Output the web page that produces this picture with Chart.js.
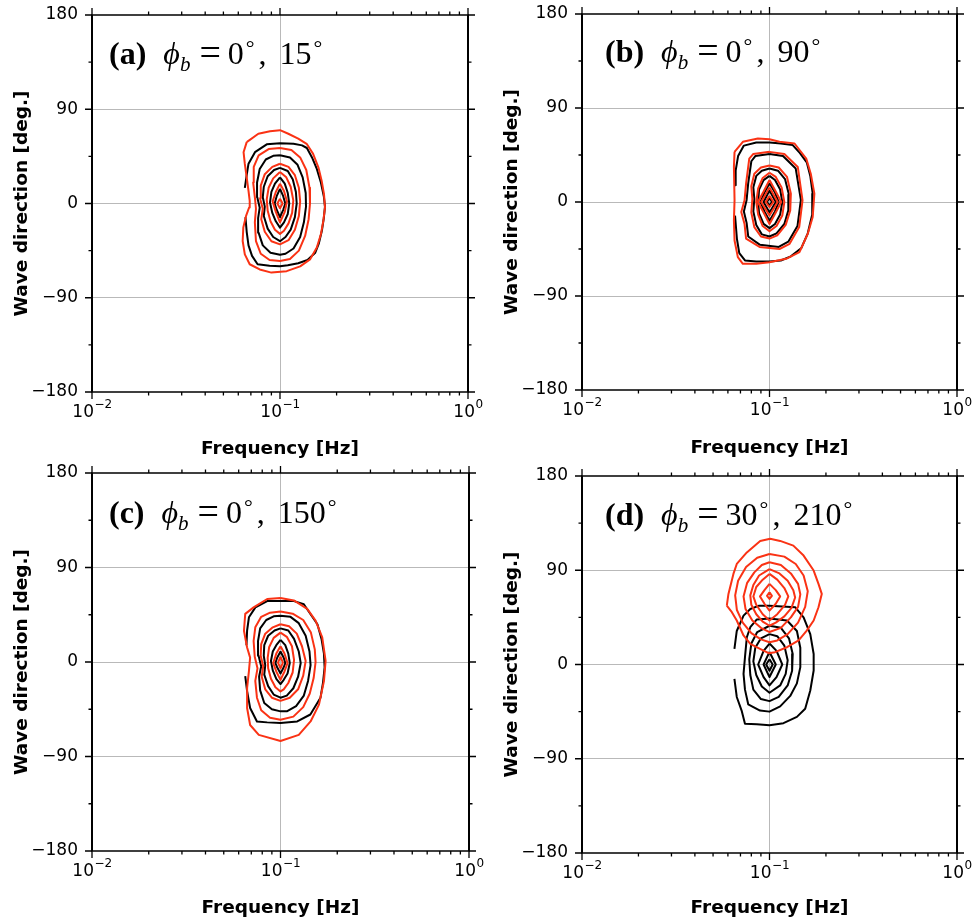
<!DOCTYPE html>
<html>
<head>
<meta charset="utf-8">
<title>Directional wave spectra</title>
<script src="https://cdn.jsdelivr.net/npm/chart.js@4.4.1/dist/chart.umd.min.js"></script>
<style>
  html, body { margin: 0; padding: 0; background: #fff; }
  #figure { position: relative; width: 975px; height: 924px; overflow: hidden; }
  #figure canvas { position: absolute; }
</style>
</head>
<body>
<div id="figure">
  <canvas id="panel-a" width="490" height="462" style="left:0;top:0"></canvas>
  <canvas id="panel-b" width="485" height="462" style="left:490px;top:0"></canvas>
  <canvas id="panel-c" width="490" height="462" style="left:0;top:462px"></canvas>
  <canvas id="panel-d" width="485" height="462" style="left:490px;top:462px"></canvas>
</div>
<script>
// Axis ticks
const freqTicks = [0.01, 0.1, 1];
const freqExponents = ['−2', '−1', '0'];
const freqMinor = [0.01, 0.02, 0.03, 0.04, 0.05, 0.06, 0.07, 0.08, 0.09, 0.1, 0.2, 0.3, 0.4, 0.5, 0.6, 0.7, 0.8, 0.9, 1];
const dirTicks = [-180, -90, 0, 90, 180];
const dirLabels = ['−180', '−90', '0', '90', '180'];
const dirMinor = [-180, -135, -90, -45, 0, 45, 90, 135, 180];

// Panel captions
const panelTags = ['(a)', '(b)', '(c)', '(d)'];
const phiFirst = ['0', '0', '0', '30'];
const phiSecond = ['15', '90', '150', '210'];

// Contour rings, each point is [frequency Hz, direction deg], outer ring first.
// Closed rings repeat their first point; the outer black ring stops at the lowest bin.
const aBlack = [
  [[0.065,15],[0.0665,27],[0.068,38],[0.0736,49],[0.085,56.5],[0.1,57.5],[0.118,57],[0.131,55.5],[0.139,53],[0.148,44],[0.157,33],[0.165,20],[0.171,7],[0.1735,-3],[0.171,-14],[0.167,-26],[0.161,-38],[0.154,-47],[0.14,-54],[0.125,-57],[0.11,-59],[0.1,-60],[0.088,-59.5],[0.076,-58],[0.071,-50],[0.068,-40],[0.0665,-27],[0.0655,-13]],
  [[0.1,46],[0.113,44],[0.124,37],[0.132,25],[0.137,10],[0.1375,-3],[0.134,-18],[0.128,-32],[0.118,-43],[0.107,-48],[0.1,-49],[0.089,-47],[0.081,-40],[0.077,-28],[0.0765,-14],[0.078,-4],[0.0757,6],[0.0755,20],[0.078,33],[0.084,42],[0.092,45.5],[0.1,46]],
  [[0.1,34],[0.11,31],[0.117,23],[0.1215,11],[0.1227,0],[0.12,-13],[0.114,-25],[0.107,-32],[0.1,-36],[0.092,-32],[0.086,-24],[0.082,-12],[0.083,-3],[0.081,6],[0.082,16],[0.086,26],[0.093,32],[0.1,34]],
  [[0.1,25],[0.106,19],[0.11,10],[0.112,0],[0.11,-10],[0.105,-18],[0.1,-23],[0.095,-17],[0.091,-9],[0.0885,1],[0.09,11],[0.094,19],[0.1,25]],
  [[0.1,14],[0.104,7],[0.1067,0],[0.104,-6],[0.1,-13],[0.096,-6],[0.0937,0],[0.096,7],[0.1,14]]
];
const aRed = [
  [[0.0665,58.6],[0.0767,66.6],[0.0885,69],[0.1,70],[0.1107,66.6],[0.125,62],[0.1386,57],[0.15,47.4],[0.16,34.6],[0.1665,21.8],[0.1714,9],[0.1735,-3.8],[0.17,-16.6],[0.165,-29.4],[0.157,-42],[0.1444,-53.4],[0.128,-60],[0.1085,-64.6],[0.09,-66],[0.078,-63],[0.069,-58],[0.065,-48.6],[0.0633,-35.8],[0.0638,-23],[0.066,-11.8],[0.0685,-3.8],[0.069,2.6],[0.068,12],[0.0665,25],[0.065,37.8],[0.064,49],[0.0665,58.6]],
  [[0.1,53],[0.115,51],[0.128,44],[0.138,32],[0.1435,15],[0.1444,0],[0.142,-15],[0.136,-31],[0.126,-45],[0.113,-53],[0.1,-55],[0.088,-54],[0.079,-48],[0.0745,-36],[0.0735,-18],[0.0745,-5],[0.0736,5],[0.072,20],[0.0725,35],[0.077,46],[0.087,52],[0.1,53]],
  [[0.1,38],[0.111,35],[0.12,27],[0.126,15],[0.128,2],[0.126,-12],[0.12,-25],[0.111,-35],[0.1,-39],[0.09,-36],[0.083,-27],[0.0795,-15],[0.081,-5],[0.0783,5],[0.079,17],[0.083,28],[0.091,35],[0.1,38]],
  [[0.1,30],[0.108,25],[0.114,16],[0.1177,3],[0.116,-9],[0.111,-19],[0.105,-26],[0.1,-29],[0.094,-25],[0.089,-17],[0.086,-7],[0.085,4],[0.087,15],[0.092,24],[0.1,30]],
  [[0.1,19],[0.105,12],[0.109,2],[0.106,-8],[0.1,-18],[0.095,-8],[0.0914,2],[0.095,11],[0.1,19]],
  [[0.1,4.5],[0.1033,0],[0.1,-4.5],[0.0968,0],[0.1,4.5]]
];

const bBlack = [
  [[0.0655,16],[0.066,30],[0.068,44],[0.073,54],[0.085,57],[0.1,57],[0.115,56],[0.133,54.5],[0.145,47],[0.158,38],[0.165,25],[0.17,8],[0.169,-12],[0.16,-30],[0.148,-44],[0.13,-52],[0.115,-56],[0.1,-57],[0.085,-57],[0.074,-56],[0.069,-49],[0.067,-35],[0.0655,-13]],
  [[0.1,46],[0.118,44],[0.138,32],[0.147,2],[0.141,-23],[0.126,-38],[0.112,-43],[0.089,-41],[0.077,-33],[0.0755,-20],[0.073,-9],[0.0755,2],[0.077,18],[0.08,39],[0.084,44],[0.1,46]],
  [[0.1,32],[0.111,30],[0.121,22],[0.127,7],[0.126,-8],[0.12,-21],[0.109,-30],[0.1,-33],[0.091,-31],[0.085,-22],[0.082,-9],[0.083,3],[0.082,14],[0.085,25],[0.091,30],[0.1,32]],
  [[0.1,25],[0.107,21],[0.114,12],[0.117,0],[0.114,-12],[0.107,-21],[0.1,-25],[0.093,-21],[0.088,-11],[0.087,0],[0.088,12],[0.093,21],[0.1,25]],
  [[0.1,18],[0.107,9],[0.112,0],[0.107,-9],[0.1,-18],[0.094,-9],[0.0895,0],[0.094,9],[0.1,18]],
  [[0.1,11],[0.108,0],[0.1,-10],[0.093,0],[0.1,11]],
  [[0.1,4],[0.103,0],[0.1,-3.5],[0.097,0],[0.1,4]]
];
const bRed = [
  [[0.0651,48],[0.0721,57.6],[0.0867,60.8],[0.1,60],[0.113,57.6],[0.136,56],[0.157,41.6],[0.166,27],[0.1735,8],[0.17,-14.4],[0.16,-30.4],[0.1445,-48],[0.1227,-54.4],[0.1,-57.6],[0.085,-59.2],[0.0721,-59.2],[0.0678,-52.8],[0.0651,-36.8],[0.0646,-17.6],[0.0651,1.6],[0.0646,33.6],[0.0651,48]],
  [[0.1,48],[0.12,46],[0.1415,33.6],[0.15,1.6],[0.144,-24],[0.128,-40],[0.113,-45],[0.0885,-43],[0.075,-35],[0.0736,-21],[0.0707,-9.6],[0.0736,1.6],[0.075,17.6],[0.078,41.6],[0.082,46],[0.1,48]],
  [[0.1,35],[0.112,33],[0.124,24],[0.13,8],[0.129,-8],[0.122,-22],[0.11,-32],[0.1,-35],[0.09,-33],[0.083,-24],[0.08,-10],[0.081,3],[0.08,15],[0.083,27],[0.09,33],[0.1,35]],
  [[0.1,28],[0.108,24],[0.116,14],[0.12,0],[0.117,-13],[0.109,-23],[0.1,-28],[0.092,-23],[0.087,-12],[0.085,0],[0.087,13],[0.092,23],[0.1,28]],
  [[0.1,21],[0.108,10],[0.1155,0],[0.108,-10],[0.1,-21],[0.093,-10],[0.0867,0],[0.093,10],[0.1,21]],
  [[0.1,14],[0.1106,0],[0.1,-13],[0.0903,0],[0.1,14]],
  [[0.1,6],[0.105,0],[0.1,-5],[0.0955,0],[0.1,6]]
];

const cBlack = [
  [[0.066,16],[0.0665,30],[0.068,42.6],[0.0736,52],[0.085,58],[0.1,58],[0.118,58],[0.133,55],[0.145,45],[0.157,36],[0.165,22],[0.17,8],[0.1714,-5],[0.168,-20],[0.163,-34],[0.144,-50],[0.1227,-56.6],[0.1,-58],[0.085,-57.5],[0.075,-56.6],[0.069,-43.8],[0.0665,-27.8],[0.065,-13.4]],
  [[0.1,44],[0.113,43],[0.125,37],[0.136,25],[0.1425,10],[0.1444,-3],[0.14,-18],[0.133,-32],[0.121,-42],[0.108,-47],[0.1,-47],[0.09,-45],[0.082,-39],[0.078,-27],[0.077,-14],[0.079,-4],[0.0765,6],[0.076,20],[0.078,32],[0.084,40],[0.092,43.5],[0.1,44]],
  [[0.1,32],[0.11,30],[0.118,22],[0.125,10],[0.128,-1],[0.124,-14],[0.117,-25],[0.108,-32],[0.1,-34],[0.092,-31],[0.086,-23],[0.082,-12],[0.083,-3],[0.0815,6],[0.082,16],[0.086,25],[0.093,30],[0.1,32]],
  [[0.1,21],[0.106,16],[0.11,8],[0.112,-1],[0.109,-11],[0.104,-17],[0.1,-21],[0.095,-16],[0.091,-8],[0.089,1],[0.091,10],[0.095,16],[0.1,21]],
  [[0.1,10],[0.104,4],[0.106,-1],[0.104,-5],[0.1,-11],[0.096,-5],[0.094,-1],[0.096,4],[0.1,10]]
];
const cRed = [
  [[0.1,61],[0.1177,58.6],[0.1386,50.6],[0.1535,39.4],[0.1665,23.4],[0.1735,1],[0.17,-18.2],[0.16,-40.6],[0.1444,-56.6],[0.125,-69.4],[0.1,-75.2],[0.0767,-69.4],[0.069,-60],[0.0665,-43.8],[0.0665,-24.6],[0.068,-8.6],[0.069,4.2],[0.0665,13.8],[0.064,29.8],[0.065,45.8],[0.072,52],[0.085,60],[0.1,61]],
  [[0.1,48],[0.116,46],[0.132,40],[0.145,28],[0.152,12],[0.1535,0],[0.15,-15],[0.143,-30],[0.132,-43],[0.117,-52],[0.1,-55],[0.088,-53],[0.079,-46],[0.075,-34],[0.0735,-18],[0.0755,-6],[0.073,5],[0.072,20],[0.0735,33],[0.079,43],[0.088,47],[0.1,48]],
  [[0.1,36],[0.111,34],[0.122,27],[0.13,15],[0.136,1],[0.132,-13],[0.124,-26],[0.112,-34],[0.1,-37],[0.09,-34],[0.083,-26],[0.0795,-14],[0.081,-4],[0.0785,6],[0.079,17],[0.083,27],[0.091,33],[0.1,36]],
  [[0.1,28],[0.108,24],[0.115,15],[0.118,2],[0.116,-10],[0.11,-20],[0.104,-26],[0.1,-28],[0.094,-24],[0.089,-16],[0.086,-6],[0.0855,4],[0.087,14],[0.092,23],[0.1,28]],
  [[0.1,15],[0.105,8],[0.109,-1],[0.105,-9],[0.1,-17],[0.095,-9],[0.0915,-1],[0.095,8],[0.1,15]],
  [[0.1,5],[0.103,-0.5],[0.1,-6],[0.097,-0.5],[0.1,5]]
];

const dBlack = [
  [[0.065,15],[0.0669,32],[0.0727,46.7],[0.079,53],[0.0874,56],[0.1,56],[0.137,54.7],[0.152,45],[0.165,29],[0.172,10],[0.172,-5.7],[0.165,-24.8],[0.155,-42.3],[0.14,-50],[0.1187,-56],[0.1,-58],[0.0856,-57],[0.074,-56.6],[0.071,-44],[0.0669,-31],[0.065,-13.7]],
  [[0.1,44],[0.124,42],[0.14,32],[0.146,16],[0.146,-2.5],[0.14,-18],[0.129,-30],[0.114,-40],[0.1,-45],[0.089,-44],[0.077,-38],[0.074,-24],[0.0727,-9],[0.074,7],[0.0757,26],[0.079,35.6],[0.0856,43],[0.1,44]],
  [[0.1,37],[0.115,35],[0.127,25],[0.133,10],[0.132,-6],[0.125,-20],[0.112,-31],[0.1,-35],[0.09,-33],[0.082,-24],[0.079,-10],[0.078,5],[0.08,20],[0.086,31],[0.1,37]],
  [[0.1,29],[0.11,27],[0.12,18],[0.125,4],[0.122,-9],[0.114,-20],[0.1,-27],[0.091,-21],[0.085,-10],[0.082,3],[0.084,16],[0.09,25],[0.1,29]],
  [[0.1,20],[0.109,13],[0.117,0],[0.109,-12],[0.1,-20],[0.093,-12],[0.087,0],[0.093,13],[0.1,20]],
  [[0.1,12],[0.108,0],[0.1,-12],[0.093,0],[0.1,12]],
  [[0.1,5],[0.104,0],[0.1,-6],[0.096,0],[0.1,5]]
];
const dRed = [
  [[0.0592,56.3],[0.0604,67.4],[0.0642,86.5],[0.0669,96],[0.0757,107],[0.0892,118],[0.1008,120],[0.114,118],[0.134,113.5],[0.152,104],[0.172,89.7],[0.1825,77],[0.19,67.4],[0.1825,54.7],[0.172,42],[0.158,32.4],[0.143,23],[0.124,16.5],[0.107,11.8],[0.099,10.8],[0.089,15],[0.079,19.7],[0.0727,27.7],[0.0669,42],[0.063,50],[0.0592,56.3]],
  [[0.1,105.5],[0.12,103],[0.138,96],[0.152,85],[0.16,70],[0.155,55],[0.142,40],[0.125,29],[0.11,23],[0.1,21.3],[0.09,24],[0.08,30],[0.072,40],[0.067,52],[0.0656,66],[0.068,80],[0.075,93],[0.086,102],[0.1,105.5]],
  [[0.1,97.6],[0.115,95],[0.13,87],[0.142,77],[0.146,67],[0.142,55],[0.13,45],[0.115,35],[0.1,31],[0.09,35],[0.081,42],[0.0745,53],[0.0727,65],[0.076,78],[0.083,88],[0.091,95],[0.1,97.6]],
  [[0.1,91],[0.113,87],[0.125,80],[0.134,71],[0.137,64],[0.131,54],[0.12,46],[0.108,40],[0.1,37],[0.092,41],[0.085,48],[0.08,57],[0.079,66],[0.082,76],[0.088,85],[0.1,91]],
  [[0.1,86.5],[0.11,81],[0.12,73],[0.126,65],[0.121,57],[0.11,48],[0.1,42],[0.092,48],[0.085,57],[0.082,65],[0.085,74],[0.092,81],[0.1,86.5]],
  [[0.1,77],[0.108,71],[0.114,65],[0.108,58],[0.1,51.5],[0.094,58],[0.089,65],[0.094,71],[0.1,77]],
  [[0.1,69],[0.103,65.5],[0.1,62.6],[0.097,65.5],[0.1,69]]
];

const BLACK = '#000000';
const RED = '#fa3214';
const GRID = '#b9b9b9';
const SANS = '"DejaVu Sans", sans-serif';
const TICK_FONT = { family: SANS, size: 17 };
const SERIF = '"Liberation Serif", "Times New Roman", serif';

// Frame with outward ticks on all four sides, plus the 10^n frequency labels
const frameTicks = {
  id: 'frameTicks',
  afterDraw(chart) {
    const { ctx, chartArea: { left, right, top, bottom }, scales: { x, y } } = chart;
    ctx.save();
    ctx.strokeStyle = '#000';
    ctx.lineWidth = 1.3;
    ctx.beginPath();
    freqMinor.forEach(v => {
      const px = x.getPixelForValue(v);
      const len = freqTicks.includes(v) ? 7 : 3.5;
      ctx.moveTo(px, bottom); ctx.lineTo(px, bottom + len);
      ctx.moveTo(px, top); ctx.lineTo(px, top - len);
    });
    dirMinor.forEach(v => {
      const py = y.getPixelForValue(v);
      const len = dirTicks.includes(v) ? 7 : 3.5;
      ctx.moveTo(left, py); ctx.lineTo(left - len, py);
      ctx.moveTo(right, py); ctx.lineTo(right + len, py);
    });
    ctx.stroke();
    ctx.lineWidth = 1.6;
    ctx.beginPath();
    ctx.moveTo(left - 1, top); ctx.lineTo(right + 1, top);
    ctx.moveTo(left - 1, bottom); ctx.lineTo(right + 1, bottom);
    ctx.stroke();
    ctx.lineWidth = 2;
    ctx.beginPath();
    ctx.moveTo(left, top); ctx.lineTo(left, bottom);
    ctx.moveTo(right, top); ctx.lineTo(right, bottom);
    ctx.stroke();

    // decade labels with raised exponents
    ctx.fillStyle = '#000';
    ctx.textBaseline = 'alphabetic';
    ctx.textAlign = 'left';
    freqTicks.forEach((v, k) => {
      const px = x.getPixelForValue(v);
      ctx.font = '17px ' + SANS;
      const wBase = ctx.measureText('10').width;
      ctx.font = '12px ' + SANS;
      const wExp = ctx.measureText(freqExponents[k]).width;
      const x0 = px - (wBase + wExp) / 2;
      ctx.font = '17px ' + SANS;
      ctx.fillText('10', x0, bottom + 25);
      ctx.font = '12px ' + SANS;
      ctx.fillText(freqExponents[k], x0 + wBase + 0.5, bottom + 16);
    });
    ctx.restore();
  }
};

// Panel caption: (a) phi_b = 0°, 15°
const panelCaption = {
  id: 'panelCaption',
  afterDraw(chart, args, opts) {
    const ctx = chart.ctx;
    let x = opts.x;
    const y = opts.y;
    ctx.save();
    ctx.fillStyle = '#000';
    ctx.textBaseline = 'alphabetic';
    ctx.textAlign = 'left';
    const put = (txt, font, dy = 0) => {
      ctx.font = font;
      ctx.fillText(txt, x, y + dy);
      x += ctx.measureText(txt).width;
    };
    put(opts.tag, 'bold 32px ' + SERIF);
    x += 17;
    put('ϕ', 'italic 32px ' + SERIF);
    put('b', 'italic 21px ' + SERIF, 7);
    x += 9;
    put('=', '38px ' + SERIF, 1);
    x += 7;
    put(opts.first, '32px ' + SERIF);
    x += 2;
    put('°', '22px ' + SERIF, -9);
    x += 4;
    put(',', '32px ' + SERIF);
    x += 13;
    put(opts.second, '32px ' + SERIF);
    x += 2;
    put('°', '22px ' + SERIF, -9);
    ctx.restore();
  }
};

const panels = [
  { id: 'panel-a', black: aBlack, red: aRed, top: 15, right: 22, xh: 70, xTitlePad: 2, cap: [109, 64] },
  { id: 'panel-b', black: bBlack, red: bRed, top: 14, right: 18, xh: 72, xTitlePad: 3, cap: [115, 62] },
  { id: 'panel-c', black: cBlack, red: cRed, top: 11, right: 21, xh: 73, xTitlePad: 5, cap: [109, 61] },
  { id: 'panel-d', black: dBlack, red: dRed, top: 14, right: 18, xh: 71, xTitlePad: 5, cap: [115, 63] }
];

function ringDataset(ring, color, order) {
  return {
    data: ring.map(([f, d]) => ({ x: f, y: d })),
    showLine: true,
    borderColor: color,
    borderWidth: 2,
    pointRadius: 0,
    pointHoverRadius: 0,
    fill: false,
    tension: 0,
    borderJoinStyle: 'round',
    order: order
  };
}

panels.forEach((p, i) => {
  const datasets = [
    ...p.red.map(r => ringDataset(r, RED, 0)),
    ...p.black.map(r => ringDataset(r, BLACK, 1))
  ];
  new Chart(document.getElementById(p.id), {
    type: 'scatter',
    data: { datasets },
    plugins: [frameTicks, panelCaption],
    options: {
      responsive: false,
      animation: false,
      devicePixelRatio: 1,
      events: [],
      layout: { padding: { left: 0, top: p.top, right: p.right, bottom: 0 } },
      plugins: {
        legend: { display: false },
        tooltip: { enabled: false },
        panelCaption: { tag: panelTags[i], first: phiFirst[i], second: phiSecond[i], x: p.cap[0], y: p.cap[1] }
      },
      scales: {
        x: {
          type: 'logarithmic',
          min: 0.01,
          max: 1,
          afterBuildTicks: s => { s.ticks = freqMinor.map(v => ({ value: v })); },
          afterFit: s => { s.height = p.xh; s.paddingLeft = 0; s.paddingRight = 0; },
          border: { display: false },
          grid: {
            drawTicks: false,
            lineWidth: 1,
            color: c => (c.tick && c.tick.value === 0.1) ? GRID : 'rgba(0,0,0,0)'
          },
          ticks: { display: false },
          title: {
            display: true,
            text: 'Frequency [Hz]',
            color: '#000',
            font: { family: SANS, size: 18.5, weight: 'bold' },
            padding: { top: 0, bottom: p.xTitlePad }
          }
        },
        y: {
          type: 'linear',
          min: -180,
          max: 180,
          afterBuildTicks: s => { s.ticks = dirMinor.map(v => ({ value: v })); },
          afterFit: s => { s.width = 92; s.paddingTop = 0; s.paddingBottom = 0; },
          border: { display: false },
          grid: {
            drawTicks: false,
            lineWidth: 1,
            color: c => (c.tick && Math.abs(c.tick.value) < 180 && c.tick.value % 90 === 0) ? GRID : 'rgba(0,0,0,0)'
          },
          ticks: {
            autoSkip: false,
            padding: 14,
            color: '#000',
            font: TICK_FONT,
            callback: v => {
              const k = dirTicks.indexOf(v);
              return k >= 0 ? dirLabels[k] : '';
            }
          },
          title: {
            display: true,
            text: 'Wave direction [deg.]',
            color: '#000',
            font: { family: SANS, size: 18.5, weight: 'bold' },
            padding: { top: 11, bottom: 0 }
          }
        }
      }
    }
  });
});
</script>
</body>
</html>
